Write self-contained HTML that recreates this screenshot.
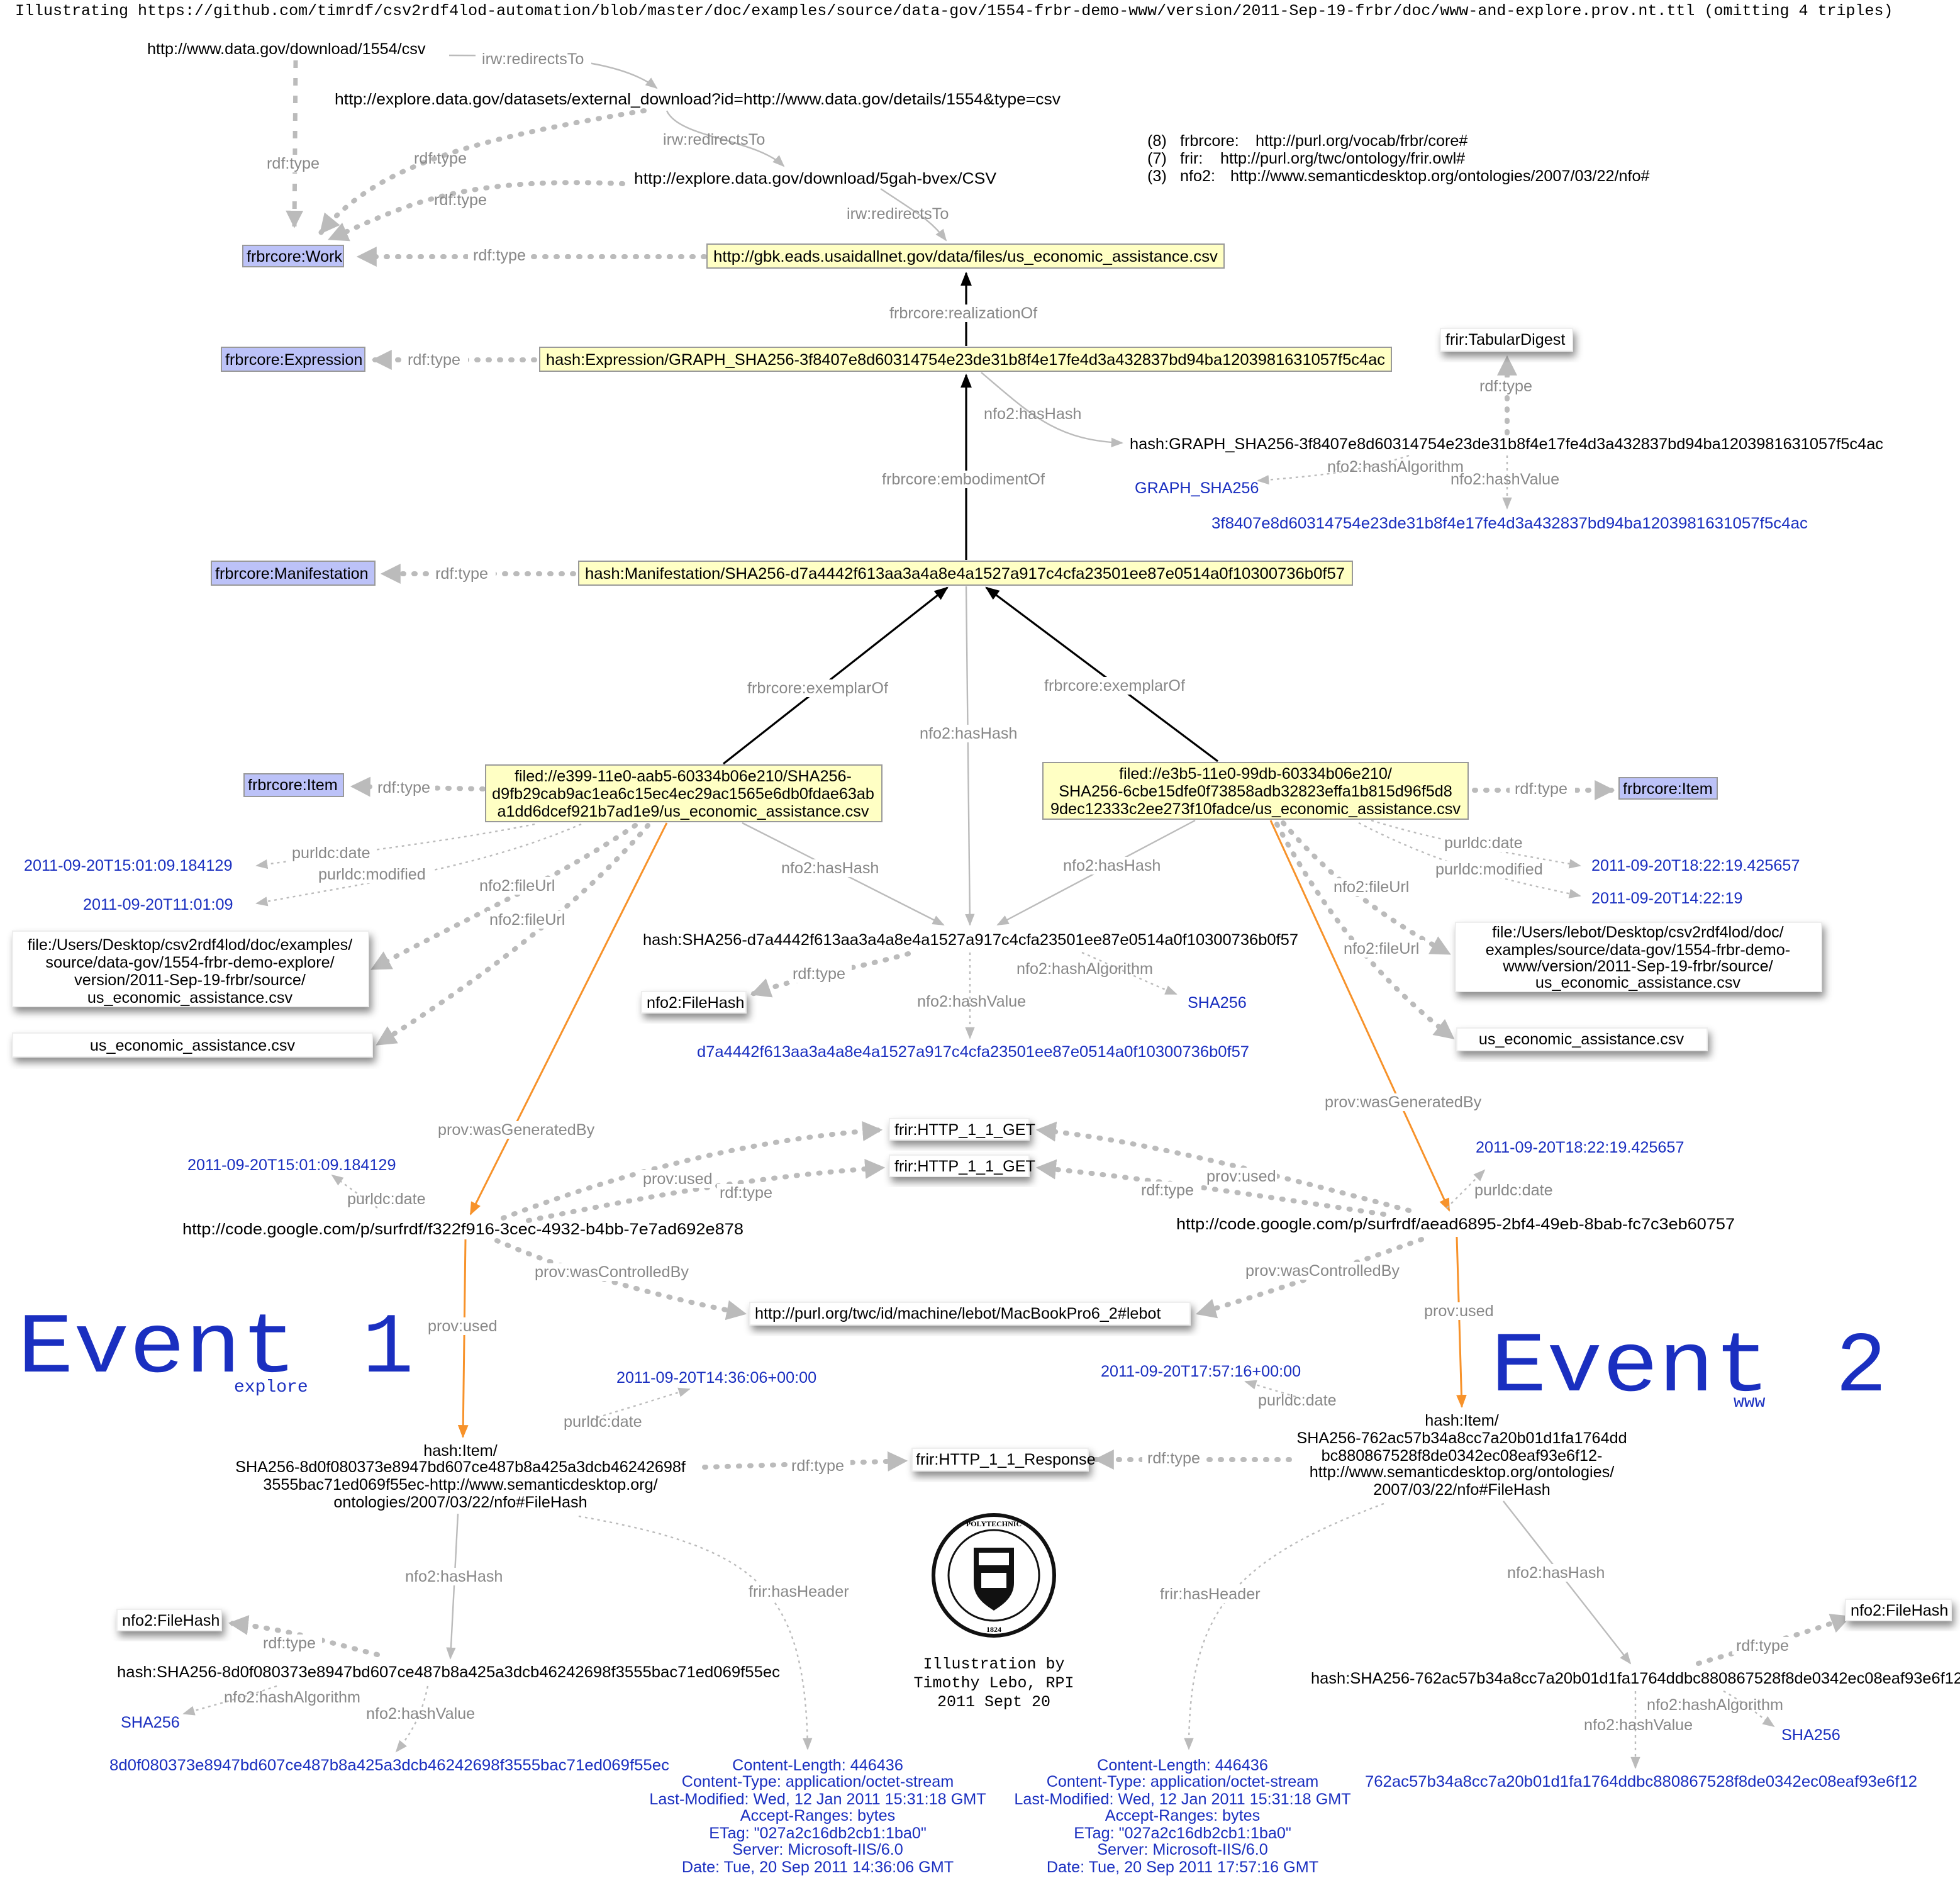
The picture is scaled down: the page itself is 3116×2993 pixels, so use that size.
<!DOCTYPE html>
<html><head><meta charset="utf-8"><style>
html,body{margin:0;padding:0;background:#fff}
svg{display:block}
text{font-family:"Liberation Sans Narrow","Liberation Sans",sans-serif;font-size:12.6px;fill:#000}
.l{fill:#888}
.b{fill:#1a2fc0}
.m{font-family:"Liberation Mono",monospace;font-size:12.5px}
.ev{font-family:"Liberation Mono",monospace;font-size:68px;fill:#1a2fc0}
.evs{font-family:"Liberation Mono",monospace;font-size:14px;fill:#1a2fc0}
.g{stroke:#bbb;fill:none}
.td{stroke:#bbb;stroke-width:4;stroke-dasharray:1 8;stroke-linecap:round;fill:none}
.tv{stroke:#bbb;stroke-width:3.5;stroke-dasharray:6 8;fill:none}
.th{stroke:#bbb;stroke-width:1.2;fill:none}
.dt{stroke:#bbb;stroke-width:1.2;stroke-dasharray:2 3;fill:none}
.k{stroke:#000;stroke-width:1.6;fill:none}
.o{stroke:#f7922a;stroke-width:1.5;fill:none}
.cls{fill:#bcc2f8;stroke:#999}
.y{fill:#ffffc4;stroke:#999}
.w{fill:#fff;stroke:#eee}
</style></head><body>
<svg width="3116" height="2993" viewBox="0 0 1558 1496.5" xmlns="http://www.w3.org/2000/svg">
<defs>
<marker id="ag" viewBox="0 0 10 10" refX="9" refY="5" markerWidth="4" markerHeight="4" orient="auto" markerUnits="strokeWidth"><path d="M0,0L10,5L0,10z" fill="#bbb"/></marker>
<marker id="at" viewBox="0 0 10 10" refX="9" refY="5" markerWidth="8" markerHeight="8" orient="auto" markerUnits="strokeWidth"><path d="M0,1L10,5L0,9z" fill="#bbb"/></marker>
<marker id="ak" viewBox="0 0 10 10" refX="9" refY="5" markerWidth="7" markerHeight="7" orient="auto" markerUnits="strokeWidth"><path d="M0,1L10,5L0,9z" fill="#000"/></marker>
<marker id="ao" viewBox="0 0 10 10" refX="9" refY="5" markerWidth="7" markerHeight="7" orient="auto" markerUnits="strokeWidth"><path d="M0,1L10,5L0,9z" fill="#f7922a"/></marker>
<filter id="sh" x="-10%" y="-30%" width="120%" height="180%"><feDropShadow dx="2" dy="4" stdDeviation="3" flood-color="#000" flood-opacity="0.45"/></filter>
</defs>

<text class="m" x="12" y="12">Illustrating https://github.com/timrdf/csv2rdf4lod-automation/blob/master/doc/examples/source/data-gov/1554-frbr-demo-www/version/2011-Sep-19-frbr/doc/www-and-explore.prov.nt.ttl (omitting 4 triples)</text>

<!-- prefixes -->
<text x="912" y="116">(8)</text><text x="938" y="116">frbrcore:</text><text x="998" y="116">http://purl.org/vocab/frbr/core#</text>
<text x="912" y="130">(7)</text><text x="938" y="130">frir:</text><text x="970" y="130">http://purl.org/twc/ontology/frir.owl#</text>
<text x="912" y="144">(3)</text><text x="938" y="144">nfo2:</text><text x="978" y="144">http://www.semanticdesktop.org/ontologies/2007/03/22/nfo#</text>

<!-- top edges -->
<path class="tv" d="M235,48 L234,180" marker-end="url(#ag)"/>
<path class="td" d="M512,88 C380,110 300,130 255,185" marker-end="url(#ag)"/>
<path class="td" d="M495,146 C360,140 320,165 262,190" marker-end="url(#ag)"/>
<path class="td" d="M560,204 L285,204" marker-end="url(#ag)"/>
<path class="th" d="M357,44 C420,44 490,45 522,70" marker-end="url(#at)"/>
<path class="th" d="M530,88 C540,110 600,110 623,132" marker-end="url(#at)"/>
<path class="th" d="M700,150 C730,170 740,175 752,191" marker-end="url(#at)"/>
<rect x="378" y="40" width="92" height="14" fill="#fff"/><text class="l" x="383" y="51">irw:redirectsTo</text>
<rect x="210" y="123" width="48" height="14" fill="#fff"/><text class="l" x="212" y="134">rdf:type</text>
<text class="l" x="329" y="130">rdf:type</text>
<text class="l" x="345" y="163">rdf:type</text>
<rect x="372" y="196" width="50" height="14" fill="#fff"/><text class="l" x="376" y="207">rdf:type</text>
<text class="l" x="527" y="115">irw:redirectsTo</text>
<text class="l" x="673" y="174">irw:redirectsTo</text>

<text x="117" y="43">http://www.data.gov/download/1554/csv</text>
<text x="266" y="83" textLength="577" lengthAdjust="spacingAndGlyphs">http://explore.data.gov/datasets/external_download?id=http://www.data.gov/details/1554&amp;type=csv</text>
<text x="504" y="146" textLength="288" lengthAdjust="spacingAndGlyphs">http://explore.data.gov/download/5gah-bvex/CSV</text>
<rect class="cls" x="193" y="195" width="80" height="17"/><text x="196" y="208">frbrcore:Work</text>
<rect class="y" x="562" y="194" width="411" height="19"/><text x="567" y="208" textLength="401" lengthAdjust="spacingAndGlyphs">http://gbk.eads.usaidallnet.gov/data/files/us_economic_assistance.csv</text>

<!-- realizationOf -->
<path class="k" d="M768,275 L768,217" marker-end="url(#ak)"/>
<rect x="705" y="242" width="124" height="14" fill="#fff"/><text class="l" x="707" y="253">frbrcore:realizationOf</text>

<!-- expression -->
<path class="td" d="M425,286 L297,286" marker-end="url(#ag)"/>
<rect x="320" y="279" width="52" height="14" fill="#fff"/><text class="l" x="324" y="290">rdf:type</text>
<rect class="cls" x="176" y="276" width="114" height="19"/><text x="179" y="290">frbrcore:Expression</text>
<rect class="y" x="429" y="276" width="677" height="19"/><text x="434" y="290" textLength="667" lengthAdjust="spacingAndGlyphs">hash:Expression/GRAPH_SHA256-3f8407e8d60314754e23de31b8f4e17fe4d3a432837bd94ba1203981631057f5c4ac</text>

<path class="th" d="M780,296 C820,330 840,350 892,352" marker-end="url(#at)"/>
<text class="l" x="782" y="333">nfo2:hasHash</text>
<path class="td" d="M1198,344 L1198,284" marker-end="url(#ag)"/>
<rect x="1173" y="300" width="50" height="14" fill="#fff"/><text class="l" x="1176" y="311">rdf:type</text>
<rect class="w" x="1145" y="261" width="105" height="18" filter="url(#sh)"/><text x="1149" y="274">frir:TabularDigest</text>
<text x="898" y="357" textLength="599" lengthAdjust="spacingAndGlyphs">hash:GRAPH_SHA256-3f8407e8d60314754e23de31b8f4e17fe4d3a432837bd94ba1203981631057f5c4ac</text>
<path class="dt" d="M1120,362 C1080,375 1050,378 1000,382" marker-end="url(#at)"/>
<path class="dt" d="M1198,362 L1198,404" marker-end="url(#at)"/>
<text class="l" x="1055" y="375">nfo2:hashAlgorithm</text>
<text class="l" x="1153" y="385">nfo2:hashValue</text>
<text class="b" x="902" y="392">GRAPH_SHA256</text>
<text class="b" x="963" y="420" textLength="474" lengthAdjust="spacingAndGlyphs">3f8407e8d60314754e23de31b8f4e17fe4d3a432837bd94ba1203981631057f5c4ac</text>

<!-- embodimentOf -->
<path class="k" d="M768,445 L768,298" marker-end="url(#ak)"/>
<rect x="698" y="374" width="138" height="14" fill="#fff"/><text class="l" x="701" y="385">frbrcore:embodimentOf</text>

<!-- manifestation -->
<path class="td" d="M456,456 L304,456" marker-end="url(#ag)"/>
<rect x="342" y="449" width="52" height="14" fill="#fff"/><text class="l" x="346" y="460">rdf:type</text>
<rect class="cls" x="168" y="446" width="130" height="19"/><text x="171" y="460">frbrcore:Manifestation</text>
<rect class="y" x="460" y="446" width="615" height="19"/><text x="465" y="460" textLength="604" lengthAdjust="spacingAndGlyphs">hash:Manifestation/SHA256-d7a4442f613aa3a4a8e4a1527a917c4cfa23501ee87e0514a0f10300736b0f57</text>

<!-- exemplarOf -->
<path class="k" d="M575,607 L753,467" marker-end="url(#ak)"/>
<path class="k" d="M968,605 L784,467" marker-end="url(#ak)"/>
<rect x="592" y="540" width="120" height="14" fill="#fff"/><text class="l" x="594" y="551">frbrcore:exemplarOf</text>
<rect x="828" y="538" width="118" height="14" fill="#fff"/><text class="l" x="830" y="549">frbrcore:exemplarOf</text>

<!-- hasHash to d7a -->
<path class="th" d="M768,466 L771,735" marker-end="url(#at)"/>
<rect x="728" y="576" width="82" height="14" fill="#fff"/><text class="l" x="731" y="587">nfo2:hasHash</text>
<path class="th" d="M590,654 L750,735" marker-end="url(#at)"/>
<path class="th" d="M950,652 L793,735" marker-end="url(#at)"/>
<rect x="619" y="683" width="82" height="14" fill="#fff"/><text class="l" x="621" y="694">nfo2:hasHash</text>
<rect x="843" y="681" width="82" height="14" fill="#fff"/><text class="l" x="845" y="692">nfo2:hasHash</text>

<!-- left item -->
<path class="td" d="M384,627 L280,625" marker-end="url(#ag)"/>
<rect x="296" y="619" width="50" height="14" fill="#fff"/><text class="l" x="300" y="630">rdf:type</text>
<rect class="cls" x="194" y="615" width="79" height="18"/><text x="197" y="628">frbrcore:Item</text>
<rect class="y" x="386" y="608" width="315" height="45"/>
<text x="543" y="621" text-anchor="middle">filed://e399-11e0-aab5-60334b06e210/SHA256-</text>
<text x="543" y="635" text-anchor="middle">d9fb29cab9ac1ea6c15ec4ec29ac1565e6db0fdae63ab</text>
<text x="543" y="649" text-anchor="middle">a1dd6dcef921b7ad1e9/us_economic_assistance.csv</text>

<path class="dt" d="M425,655 C350,670 260,680 204,688" marker-end="url(#at)"/>
<path class="dt" d="M462,655 C380,690 300,700 204,718" marker-end="url(#at)"/>
<rect x="230" y="671" width="68" height="14" fill="#fff"/><text class="l" x="232" y="682">purldc:date</text>
<rect x="251" y="688" width="92" height="14" fill="#fff"/><text class="l" x="253" y="699">purldc:modified</text>
<text class="b" x="19" y="692">2011-09-20T15:01:09.184129</text>
<text class="b" x="66" y="723">2011-09-20T11:01:09</text>
<path class="td" d="M505,656 C440,700 370,730 296,770" marker-end="url(#ag)"/>
<path class="td" d="M515,656 C460,720 380,780 300,830" marker-end="url(#ag)"/>
<rect x="379" y="697" width="66" height="14" fill="#fff"/><text class="l" x="381" y="708">nfo2:fileUrl</text>
<rect x="387" y="724" width="66" height="14" fill="#fff"/><text class="l" x="389" y="735">nfo2:fileUrl</text>
<rect class="w" x="10" y="740" width="283" height="60" filter="url(#sh)"/>
<text x="151" y="755" text-anchor="middle">file:/Users/Desktop/csv2rdf4lod/doc/examples/</text>
<text x="151" y="769" text-anchor="middle">source/data-gov/1554-frbr-demo-explore/</text>
<text x="151" y="783" text-anchor="middle">version/2011-Sep-19-frbr/source/</text>
<text x="151" y="797" text-anchor="middle">us_economic_assistance.csv</text>
<rect class="w" x="10" y="821" width="286" height="19" filter="url(#sh)"/><text x="153" y="835" text-anchor="middle">us_economic_assistance.csv</text>

<!-- right item -->
<path class="td" d="M1172,628 L1282,628" marker-end="url(#ag)"/>
<rect x="1200" y="620" width="52" height="14" fill="#fff"/><text class="l" x="1204" y="631">rdf:type</text>
<rect class="cls" x="1287" y="618" width="78" height="17"/><text x="1290" y="631">frbrcore:Item</text>
<rect class="y" x="829" y="606" width="338" height="45"/>
<text x="998" y="619" text-anchor="middle">filed://e3b5-11e0-99db-60334b06e210/</text>
<text x="998" y="633" text-anchor="middle">SHA256-6cbe15dfe0f73858adb32823effa1b815d96f5d8</text>
<text x="998" y="647" text-anchor="middle" textLength="326" lengthAdjust="spacingAndGlyphs">9dec12333c2ee273f10fadce/us_economic_assistance.csv</text>
<path class="dt" d="M1090,652 C1150,670 1200,678 1256,688" marker-end="url(#at)"/>
<path class="dt" d="M1080,654 C1150,690 1200,700 1256,712" marker-end="url(#at)"/>
<rect x="1146" y="663" width="68" height="14" fill="#fff"/><text class="l" x="1148" y="674">purldc:date</text>
<rect x="1139" y="684" width="92" height="14" fill="#fff"/><text class="l" x="1141" y="695">purldc:modified</text>
<text class="b" x="1265" y="692">2011-09-20T18:22:19.425657</text>
<text class="b" x="1265" y="718">2011-09-20T14:22:19</text>
<path class="td" d="M1020,654 C1060,700 1100,730 1152,758" marker-end="url(#ag)"/>
<path class="td" d="M1015,655 C1060,740 1110,790 1155,825" marker-end="url(#ag)"/>
<rect x="1058" y="698" width="66" height="14" fill="#fff"/><text class="l" x="1060" y="709">nfo2:fileUrl</text>
<rect x="1066" y="747" width="66" height="14" fill="#fff"/><text class="l" x="1068" y="758">nfo2:fileUrl</text>
<rect class="w" x="1157" y="733" width="291" height="55" filter="url(#sh)"/>
<text x="1302" y="745" text-anchor="middle">file:/Users/lebot/Desktop/csv2rdf4lod/doc/</text>
<text x="1302" y="759" text-anchor="middle">examples/source/data-gov/1554-frbr-demo-</text>
<text x="1302" y="772" text-anchor="middle">www/version/2011-Sep-19-frbr/source/</text>
<text x="1302" y="785" text-anchor="middle">us_economic_assistance.csv</text>
<rect class="w" x="1158" y="817" width="199" height="18" filter="url(#sh)"/><text x="1257" y="830" text-anchor="middle">us_economic_assistance.csv</text>

<!-- d7a hash -->
<text x="511" y="751" textLength="521" lengthAdjust="spacingAndGlyphs">hash:SHA256-d7a4442f613aa3a4a8e4a1527a917c4cfa23501ee87e0514a0f10300736b0f57</text>
<path class="td" d="M722,758 C680,770 640,775 598,790" marker-end="url(#ag)"/>
<rect x="627" y="767" width="50" height="14" fill="#fff"/><text class="l" x="630" y="778">rdf:type</text>
<rect class="w" x="510" y="788" width="83" height="17" filter="url(#sh)"/><text x="514" y="801">nfo2:FileHash</text>
<path class="dt" d="M860,757 C890,770 910,780 935,790" marker-end="url(#at)"/>
<path class="dt" d="M771,757 L771,825" marker-end="url(#at)"/>
<text class="l" x="808" y="774">nfo2:hashAlgorithm</text>
<text class="l" x="729" y="800">nfo2:hashValue</text>
<text class="b" x="944" y="801">SHA256</text>
<text class="b" x="554" y="840" textLength="439" lengthAdjust="spacingAndGlyphs">d7a4442f613aa3a4a8e4a1527a917c4cfa23501ee87e0514a0f10300736b0f57</text>

<!-- wasGeneratedBy -->
<path class="o" d="M530,654 L374,965" marker-end="url(#ao)"/>
<path class="o" d="M1010,652 L1152,962" marker-end="url(#ao)"/>
<rect x="346" y="891" width="124" height="14" fill="#fff"/><text class="l" x="348" y="902">prov:wasGeneratedBy</text>
<rect x="1051" y="869" width="124" height="14" fill="#fff"/><text class="l" x="1053" y="880">prov:wasGeneratedBy</text>

<!-- activities -->
<path class="td" d="M400,968 C500,930 600,905 700,898" marker-end="url(#ag)"/>
<path class="td" d="M420,970 C520,950 600,935 702,928" marker-end="url(#ag)"/>
<path class="td" d="M1120,962 C1000,930 900,905 825,898" marker-end="url(#ag)"/>
<path class="td" d="M1100,965 C1000,950 900,935 825,928" marker-end="url(#ag)"/>
<rect x="509" y="930" width="58" height="14" fill="#fff"/><text class="l" x="511" y="941">prov:used</text>
<rect x="570" y="941" width="50" height="14" fill="#fff"/><text class="l" x="572" y="952">rdf:type</text>
<rect x="905" y="939" width="50" height="14" fill="#fff"/><text class="l" x="907" y="950">rdf:type</text>
<rect x="957" y="928" width="58" height="14" fill="#fff"/><text class="l" x="959" y="939">prov:used</text>
<rect class="w" x="707" y="889" width="111" height="17" filter="url(#sh)"/><text x="711" y="902">frir:HTTP_1_1_GET</text>
<rect class="w" x="707" y="918" width="111" height="17" filter="url(#sh)"/><text x="711" y="931">frir:HTTP_1_1_GET</text>

<path class="dt" d="M300,960 L264,934" marker-end="url(#at)"/>
<text class="l" x="276" y="957">purldc:date</text>
<text class="b" x="149" y="930">2011-09-20T15:01:09.184129</text>
<text x="145" y="981" textLength="446" lengthAdjust="spacingAndGlyphs">http://code.google.com/p/surfrdf/f322f916-3cec-4932-b4bb-7e7ad692e878</text>
<path class="dt" d="M1150,960 L1180,930" marker-end="url(#at)"/>
<text class="l" x="1172" y="950">purldc:date</text>
<text class="b" x="1173" y="916">2011-09-20T18:22:19.425657</text>
<text x="935" y="977" textLength="444" lengthAdjust="spacingAndGlyphs">http://code.google.com/p/surfrdf/aead6895-2bf4-49eb-8bab-fc7c3eb60757</text>

<path class="td" d="M395,986 C450,1010 520,1030 592,1044" marker-end="url(#ag)"/>
<path class="td" d="M1130,985 C1060,1010 1000,1030 952,1044" marker-end="url(#ag)"/>
<rect x="423" y="1004" width="124" height="14" fill="#fff"/><text class="l" x="425" y="1015">prov:wasControlledBy</text>
<rect x="988" y="1003" width="124" height="14" fill="#fff"/><text class="l" x="990" y="1014">prov:wasControlledBy</text>
<rect class="w" x="596" y="1035" width="350" height="18" filter="url(#sh)"/><text x="600" y="1048">http://purl.org/twc/id/machine/lebot/MacBookPro6_2#lebot</text>

<!-- used -->
<path class="o" d="M370,985 L368,1142" marker-end="url(#ao)"/>
<path class="o" d="M1158,983 L1162,1118" marker-end="url(#ao)"/>
<rect x="338" y="1047" width="58" height="14" fill="#fff"/><text class="l" x="340" y="1058">prov:used</text>
<rect x="1130" y="1035" width="58" height="14" fill="#fff"/><text class="l" x="1132" y="1046">prov:used</text>

<!-- Events -->
<text class="ev" x="14" y="1090" textLength="222" lengthAdjust="spacingAndGlyphs">Event</text>
<text class="ev" x="288" y="1090">1</text>
<text class="evs" x="186" y="1106">explore</text>
<text class="ev" x="1185" y="1105" textLength="222" lengthAdjust="spacingAndGlyphs">Event</text>
<text class="ev" x="1459" y="1105">2</text>
<text class="evs" x="1378" y="1118">www</text>

<path class="dt" d="M470,1128 L548,1104" marker-end="url(#at)"/>
<text class="l" x="448" y="1134">purldc:date</text>
<text class="b" x="490" y="1099">2011-09-20T14:36:06+00:00</text>
<path class="dt" d="M1030,1110 L990,1098" marker-end="url(#at)"/>
<text class="l" x="1000" y="1117">purldc:date</text>
<text class="b" x="875" y="1094">2011-09-20T17:57:16+00:00</text>

<text x="366" y="1157" text-anchor="middle">hash:Item/</text>
<text x="366" y="1170" text-anchor="middle">SHA256-8d0f080373e8947bd607ce487b8a425a3dcb46242698f</text>
<text x="366" y="1184" text-anchor="middle">3555bac71ed069f55ec-http://www.semanticdesktop.org/</text>
<text x="366" y="1198" text-anchor="middle">ontologies/2007/03/22/nfo#FileHash</text>
<text x="1162" y="1133" text-anchor="middle">hash:Item/</text>
<text x="1162" y="1147" text-anchor="middle">SHA256-762ac57b34a8cc7a20b01d1fa1764dd</text>
<text x="1162" y="1161" text-anchor="middle">bc880867528f8de0342ec08eaf93e6f12-</text>
<text x="1162" y="1174" text-anchor="middle">http://www.semanticdesktop.org/ontologies/</text>
<text x="1162" y="1188" text-anchor="middle">2007/03/22/nfo#FileHash</text>

<path class="td" d="M560,1166 L720,1161" marker-end="url(#ag)"/>
<path class="td" d="M1025,1160 L871,1160" marker-end="url(#ag)"/>
<rect x="626" y="1158" width="50" height="14" fill="#fff"/><text class="l" x="629" y="1169">rdf:type</text>
<rect x="908" y="1152" width="50" height="14" fill="#fff"/><text class="l" x="912" y="1163">rdf:type</text>
<rect class="w" x="725" y="1151" width="140" height="18" filter="url(#sh)"/><text x="728" y="1164">frir:HTTP_1_1_Response</text>

<!-- logo -->
<g transform="translate(790,1252)">
<circle r="48" fill="#fff" stroke="#111" stroke-width="3"/>
<circle r="36" fill="none" stroke="#111" stroke-width="1.5"/>
<path d="M-16,-22 L16,-22 L16,6 C16,18 6,24 0,28 C-6,24 -16,18 -16,6z" fill="#111"/>
<rect x="-12" y="-18" width="24" height="10" fill="#fff"/>
<path d="M-10,-2 L10,-2 L10,10 L-10,10z" fill="#fff"/>
<text x="0" y="-39" text-anchor="middle" style="font-size:6px;font-family:'Liberation Serif',serif;font-weight:bold">POLYTECHNIC</text>
<text x="0" y="45" text-anchor="middle" style="font-size:6px;font-family:'Liberation Serif',serif;font-weight:bold">1824</text>
</g>
<text class="m" x="790" y="1326" text-anchor="middle">Illustration by</text>
<text class="m" x="790" y="1341" text-anchor="middle">Timothy Lebo, RPI</text>
<text class="m" x="790" y="1356" text-anchor="middle">2011 Sept 20</text>

<!-- left bottom -->
<path class="th" d="M364,1203 L358,1318" marker-end="url(#at)"/>
<rect x="320" y="1246" width="82" height="14" fill="#fff"/><text class="l" x="322" y="1257">nfo2:hasHash</text>
<path class="dt" d="M460,1205 C600,1230 640,1260 642,1390" marker-end="url(#at)"/>
<rect x="593" y="1258" width="84" height="14" fill="#fff"/><text class="l" x="595" y="1269">frir:hasHeader</text>
<path class="td" d="M300,1315 C260,1305 230,1295 183,1290" marker-end="url(#ag)"/>
<rect x="206" y="1299" width="50" height="14" fill="#fff"/><text class="l" x="209" y="1310">rdf:type</text>
<rect class="w" x="93" y="1279" width="83" height="17" filter="url(#sh)"/><text x="97" y="1292">nfo2:FileHash</text>
<text x="93" y="1333" textLength="527" lengthAdjust="spacingAndGlyphs">hash:SHA256-8d0f080373e8947bd607ce487b8a425a3dcb46242698f3555bac71ed069f55ec</text>
<path class="dt" d="M220,1340 C190,1350 170,1355 146,1362" marker-end="url(#at)"/>
<path class="dt" d="M340,1340 C335,1365 325,1380 315,1392" marker-end="url(#at)"/>
<text class="l" x="178" y="1353">nfo2:hashAlgorithm</text>
<text class="l" x="291" y="1366">nfo2:hashValue</text>
<text class="b" x="96" y="1373">SHA256</text>
<text class="b" x="87" y="1407" textLength="445" lengthAdjust="spacingAndGlyphs">8d0f080373e8947bd607ce487b8a425a3dcb46242698f3555bac71ed069f55ec</text>

<g text-anchor="middle">
<text class="b" x="650" y="1407">Content-Length: 446436</text>
<text class="b" x="650" y="1420">Content-Type: application/octet-stream</text>
<text class="b" x="650" y="1434">Last-Modified: Wed, 12 Jan 2011 15:31:18 GMT</text>
<text class="b" x="650" y="1447">Accept-Ranges: bytes</text>
<text class="b" x="650" y="1461">ETag: "027a2c16db2cb1:1ba0"</text>
<text class="b" x="650" y="1474">Server: Microsoft-IIS/6.0</text>
<text class="b" x="650" y="1488">Date: Tue, 20 Sep 2011 14:36:06 GMT</text>
<text class="b" x="940" y="1407">Content-Length: 446436</text>
<text class="b" x="940" y="1420">Content-Type: application/octet-stream</text>
<text class="b" x="940" y="1434">Last-Modified: Wed, 12 Jan 2011 15:31:18 GMT</text>
<text class="b" x="940" y="1447">Accept-Ranges: bytes</text>
<text class="b" x="940" y="1461">ETag: "027a2c16db2cb1:1ba0"</text>
<text class="b" x="940" y="1474">Server: Microsoft-IIS/6.0</text>
<text class="b" x="940" y="1488">Date: Tue, 20 Sep 2011 17:57:16 GMT</text>
</g>

<!-- right bottom -->
<path class="dt" d="M1100,1195 C980,1240 945,1280 945,1390" marker-end="url(#at)"/>
<rect x="920" y="1260" width="84" height="14" fill="#fff"/><text class="l" x="922" y="1271">frir:hasHeader</text>
<path class="th" d="M1195,1193 L1296,1322" marker-end="url(#at)"/>
<rect x="1196" y="1243" width="82" height="14" fill="#fff"/><text class="l" x="1198" y="1254">nfo2:hasHash</text>
<path class="td" d="M1350,1322 C1390,1310 1430,1300 1470,1285" marker-end="url(#ag)"/>
<rect x="1377" y="1301" width="50" height="14" fill="#fff"/><text class="l" x="1380" y="1312">rdf:type</text>
<rect class="w" x="1467" y="1271" width="84" height="17" filter="url(#sh)"/><text x="1471" y="1284">nfo2:FileHash</text>
<text x="1042" y="1338" textLength="518" lengthAdjust="spacingAndGlyphs">hash:SHA256-762ac57b34a8cc7a20b01d1fa1764ddbc880867528f8de0342ec08eaf93e6f12</text>
<path class="dt" d="M1300,1344 L1300,1405" marker-end="url(#at)"/>
<path class="dt" d="M1370,1344 C1390,1355 1400,1365 1410,1372" marker-end="url(#at)"/>
<text class="l" x="1309" y="1359">nfo2:hashAlgorithm</text>
<text class="l" x="1259" y="1375">nfo2:hashValue</text>
<text class="b" x="1416" y="1383">SHA256</text>
<text class="b" x="1085" y="1420" textLength="439" lengthAdjust="spacingAndGlyphs">762ac57b34a8cc7a20b01d1fa1764ddbc880867528f8de0342ec08eaf93e6f12</text>
</svg>
</body></html>
